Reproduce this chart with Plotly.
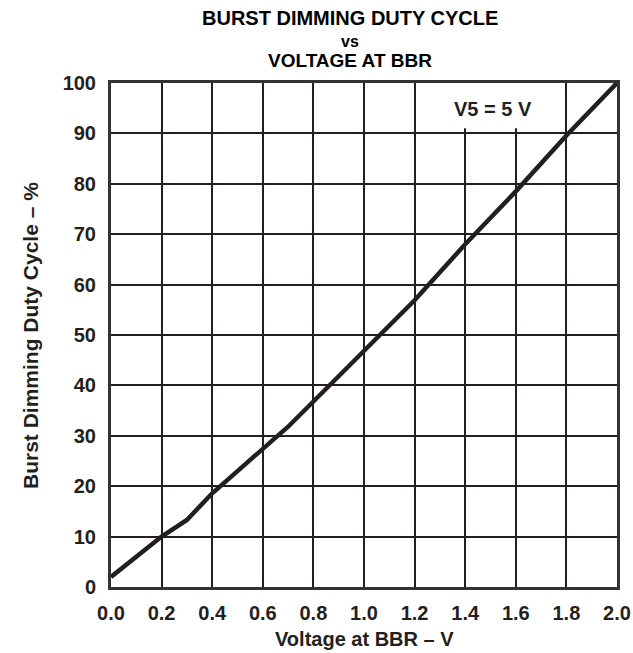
import plotly.graph_objects as go

voltage = [0.0, 0.2, 0.3, 0.4, 0.5, 0.6, 0.7, 0.8, 1.0, 1.2, 1.4, 1.6, 1.8, 2.0]
duty = [2.0, 10.0, 13.3, 18.6, 23.0, 27.3, 31.8, 36.8, 46.9, 56.9, 68.0, 78.5, 89.6, 100.0]

x_ticks = [0.0, 0.2, 0.4, 0.6, 0.8, 1.0, 1.2, 1.4, 1.6, 1.8, 2.0]
x_tick_text = ["0.0", "0.2", "0.4", "0.6", "0.8", "1.0", "1.2", "1.4", "1.6", "1.8", "2.0"]
y_ticks = [0, 10, 20, 30, 40, 50, 60, 70, 80, 90, 100]

title_lines = ["BURST DIMMING DUTY CYCLE", "vs", "VOLTAGE AT BBR"]
x_title = "Voltage at BBR \u2013 V"
y_title = "Burst Dimming Duty Cycle \u2013 %"
note = "V5 = 5 V"

FONT = "Liberation Sans, Arial, sans-serif"
INK = "#231f20"

W, H = 633, 653
plot_l, plot_r, plot_t, plot_b = 111, 617, 83, 587
pw, ph = plot_r - plot_l, plot_b - plot_t


def px(xp):
    return (xp - plot_l) / pw


def py(yp):
    return (plot_b - yp) / ph


fig = go.Figure()
fig.add_trace(go.Scatter(x=voltage, y=duty, mode="lines",
                         line=dict(color=INK, width=4.5), hoverinfo="skip",
                         showlegend=False))

axis_common = dict(showgrid=True, gridcolor=INK, gridwidth=1.5,
                   showline=True, linecolor="#333333", linewidth=3, mirror=True,
                   zeroline=False, ticks="", automargin=False,
                   tickfont=dict(family=FONT, size=20, color=INK, weight="bold"))

fig.update_xaxes(range=[0, 2], tickvals=x_ticks, ticktext=x_tick_text,
                 ticklabelstandoff=6, **axis_common)
fig.update_yaxes(range=[0, 100], tickvals=y_ticks,
                 ticklabelstandoff=8, **axis_common)

annotations = []
title_specs = [(18, 20), (41, 16), (61, 19)]
for txt, (yy, fs) in zip(title_lines, title_specs):
    annotations.append(dict(text=txt, x=px(350), y=py(yy), xref="paper", yref="paper",
                            showarrow=False, xanchor="center", yanchor="middle",
                            font=dict(family=FONT, size=fs, color="black", weight="bold")))
fig.add_shape(type="rect", xref="x", yref="y", x0=1.29, x1=1.74, y0=91, y1=100,
              fillcolor="white", line=dict(width=0), layer="between")
annotations.append(dict(text=note, x=px(492.5), y=py(109), xref="paper", yref="paper",
                        showarrow=False, xanchor="center", yanchor="middle",
                        font=dict(family=FONT, size=20, color=INK, weight="bold")))
annotations.append(dict(text=x_title, x=px(364), y=py(639), xref="paper", yref="paper",
                        showarrow=False, xanchor="center", yanchor="middle",
                        font=dict(family=FONT, size=20, color=INK, weight="bold")))
annotations.append(dict(text=y_title, x=px(30), y=py(336), xref="paper", yref="paper",
                        showarrow=False, xanchor="center", yanchor="middle", textangle=-90,
                        font=dict(family=FONT, size=21, color=INK, weight="bold")))

fig.update_layout(width=W, height=H,
                  margin=dict(l=plot_l, r=W - plot_r, t=plot_t, b=H - plot_b, autoexpand=False),
                  paper_bgcolor="white", plot_bgcolor="white",
                  annotations=annotations, showlegend=False)

fig.write_html("out.html", config={"displayModeBar": False},
               post_script="document.body.style.margin='0';document.body.style.padding='0';"
                           "document.body.style.overflow='hidden';")
